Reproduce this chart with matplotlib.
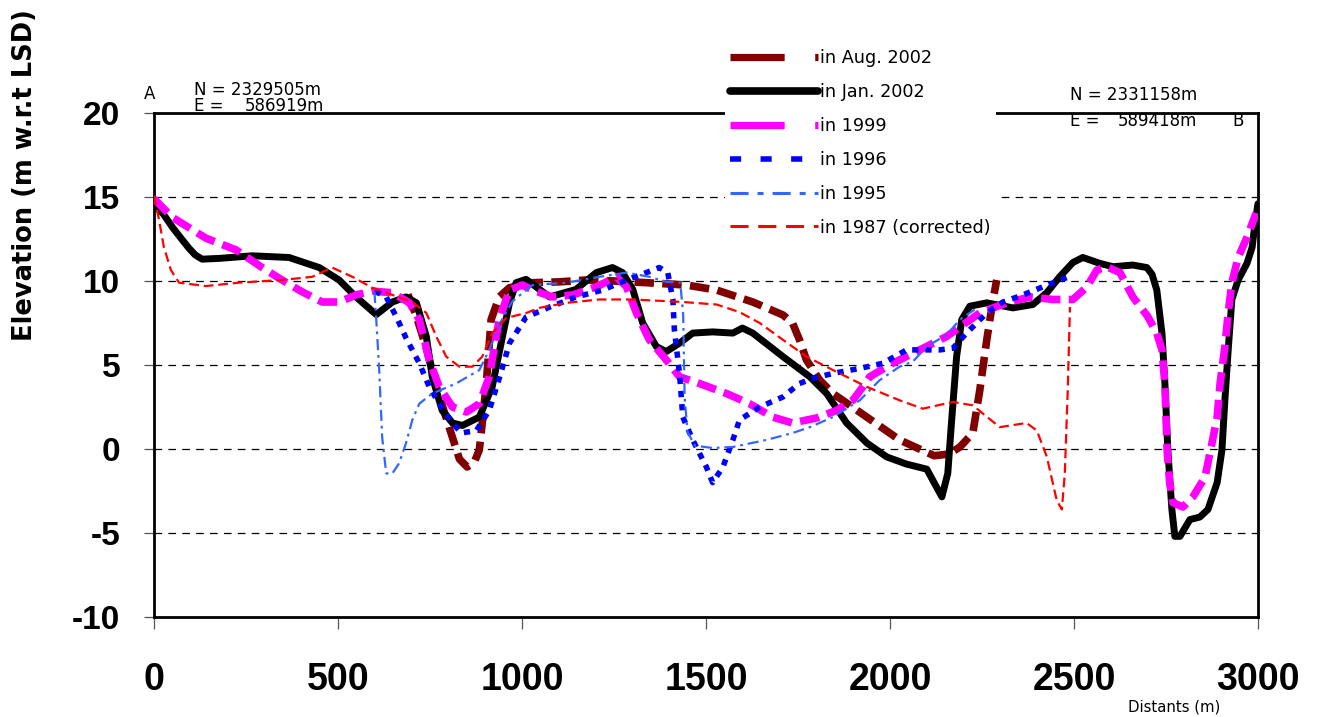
import matplotlib
matplotlib.use("Agg")
import matplotlib.pyplot as plt
from matplotlib.lines import Line2D

plt.rcParams['lines.scale_dashes'] = False

# ---- cross-section profiles (distance in m, elevation in m w.r.t LSD) ----
aug2002_x = [690, 713, 740, 770, 802, 830, 851, 870, 884, 892, 903, 916, 938, 966,
             1029, 1102, 1175, 1250, 1338, 1447, 1529, 1627, 1709, 1735, 1754, 1773,
             1809, 1845, 1937, 2026, 2080, 2120, 2160, 2190, 2225, 2244, 2263, 2280, 2290]
aug2002_y = [9.2, 7.9, 6.0, 3.5, 1.3, -0.6, -1.07, -0.8, -0.06, 1.55, 3.9, 7.7, 9.05, 9.6,
             9.9, 9.95, 10.06, 10.0, 9.9, 9.76, 9.46, 8.75, 7.98, 7.5, 6.5, 5.3,
             4.1, 3.3, 1.9, 0.54, 0.0, -0.4, -0.3, 0.12, 0.95, 3.5, 6.5, 8.9, 10.06]

jan2002_x = [0, 25, 50, 75, 95, 112, 131, 180, 267, 367, 449, 503, 549, 604, 648, 685,
             713, 740, 756, 783, 811, 838, 884, 919, 947, 966, 984, 1011, 1075, 1147,
             1202, 1246, 1273, 1301, 1328, 1365, 1392, 1428, 1464, 1518, 1573, 1599,
             1627, 1709, 1782, 1828, 1882, 1937, 1991, 2045, 2100, 2116, 2141, 2157,
             2167, 2181, 2195, 2217, 2263, 2334, 2388, 2426, 2461, 2497, 2524, 2570,
             2606, 2660, 2698, 2712, 2725, 2739, 2747, 2755, 2766, 2774, 2788, 2815,
             2842, 2864, 2889, 2902, 2910, 2919, 2929, 2946, 2970, 2984, 2992, 3000]
jan2002_y = [14.5, 14.0, 13.2, 12.5, 11.95, 11.55, 11.3, 11.35, 11.5, 11.4, 10.8, 10.06,
             9.05, 8.0, 8.75, 9.05, 8.7, 6.7, 4.3, 2.3, 1.55, 1.4, 1.9, 3.7, 6.7, 8.7,
             9.9, 10.1, 9.05, 9.5, 10.5, 10.8, 10.5, 9.5, 7.5, 6.1, 5.8, 6.3, 6.9, 6.97,
             6.9, 7.2, 6.9, 5.5, 4.3, 3.3, 1.55, 0.36, -0.47, -0.9, -1.2, -1.85, -2.85,
             -1.45, 1.55, 5.5, 7.7, 8.5, 8.7, 8.4, 8.6, 9.3, 10.25, 11.1, 11.4, 11.05,
             10.85, 10.95, 10.8, 10.4, 9.46, 6.9, 3.9, -0.06, -3.6, -5.2, -5.2, -4.2,
             -4.05, -3.6, -2.0, -0.06, 2.9, 5.9, 8.9, 10.06, 11.05, 12.0, 13.45, 14.6]

y1999_x = [0, 49, 141, 223, 294, 348, 403, 457, 503, 549, 593, 648, 694, 721, 748, 775,
           811, 849, 884, 911, 938, 966, 1001, 1029, 1083, 1138, 1202, 1257, 1284, 1311,
           1346, 1392, 1428, 1482, 1556, 1618, 1681, 1735, 1801, 1855, 1899, 1926,
           1945, 2007, 2081, 2154, 2244, 2317, 2380, 2443, 2497, 2535, 2562, 2589,
           2625, 2660, 2700, 2725, 2739, 2747, 2753, 2760, 2769, 2796, 2823, 2856,
           2875, 2889, 2897, 2910, 2919, 2929, 2946, 2970, 2995]
y1999_y = [14.9, 13.8, 12.55, 11.85, 10.8, 10.06, 9.35, 8.75, 8.75, 9.17, 9.4, 9.3, 8.7,
           7.7, 5.3, 3.7, 2.5, 2.2, 2.7, 4.3, 7.7, 9.46, 9.76, 9.46, 9.05, 9.17, 9.65,
           10.25, 9.65, 8.1, 6.5, 5.3, 4.3, 3.9, 3.3, 2.7, 1.9, 1.55, 1.85, 2.3, 2.9,
           3.7, 4.3, 5.1, 5.9, 6.7, 8.1, 8.7, 9.05, 8.9, 8.9, 9.65, 10.65, 10.85, 10.5,
           9.05, 7.9, 6.9, 5.9, 3.9, -0.06, -2.0, -3.2, -3.45, -2.85, -1.67, 0.36, 1.9,
           3.9, 6.1, 8.1, 9.9, 11.4, 12.6, 14.05]

y1996_x = [600, 631, 660, 685, 721, 748, 775, 811, 835, 876, 911, 938, 966, 1011, 1075,
           1147, 1219, 1284, 1338, 1373, 1396, 1410, 1414, 1428, 1437, 1464, 1501, 1518,
           1546, 1573, 1591, 1646, 1709, 1754, 1790, 1845, 1918, 1980, 2045, 2135,
           2171, 2208, 2263, 2307, 2361, 2415, 2480]
y1996_y = [9.4, 9.05, 7.8, 6.6, 5.1, 3.7, 2.7, 1.55, 0.95, 1.1, 2.3, 4.2, 6.3, 7.85,
           8.45, 9.05, 9.46, 10.06, 10.5, 10.8, 10.5, 8.9, 7.1, 4.5, 1.9, 0.54, -1.07,
           -2.0, -1.07, 0.54, 1.73, 2.5, 3.1, 3.9, 4.2, 4.5, 4.8, 5.1, 5.9, 5.9, 6.0,
           6.9, 8.1, 8.75, 9.17, 9.65, 10.2]

y1995_x = [599, 604, 612, 620, 631, 648, 666, 685, 702, 721, 756, 821, 884, 911, 938,
           974, 1029, 1121, 1210, 1284, 1346, 1392, 1430, 1438, 1442, 1450, 1470, 1518,
           1573, 1664, 1735, 1782, 1845, 1918, 1972, 2026, 2062, 2100, 2154, 2190, 2230]
y1995_y = [9.35, 7.7, 4.7, 0.7, -1.45, -1.45, -0.85, 0.36, 1.73, 2.7, 3.3, 3.9, 4.7,
           5.9, 7.4, 8.8, 9.76, 9.9, 10.25, 10.5, 10.25, 9.95, 9.9, 8.0, 3.0, 1.0, 0.2,
           0.06, 0.12, 0.54, 0.95, 1.3, 1.9, 2.9, 4.1, 4.9, 5.2, 6.1, 6.8, 7.7, 8.3]

y1987_x = [0, 14, 27, 46, 68, 141, 231, 348, 430, 484, 539, 593, 648, 702, 740, 767,
           794, 830, 865, 892, 919, 957, 1012, 1047, 1121, 1210, 1301, 1437, 1529, 1591,
           1646, 1709, 1773, 1845, 1937, 2026, 2089, 2171, 2225, 2298, 2371, 2399, 2426,
           2453, 2467, 2475, 2483, 2489]
y1987_y = [15.1, 13.6, 12.0, 10.65, 9.9, 9.7, 9.9, 10.06, 10.25, 10.8, 10.25, 9.6, 9.17,
           8.75, 8.1, 6.7, 5.5, 4.9, 4.9, 5.5, 6.9, 7.8, 8.1, 8.4, 8.7, 8.9, 8.9, 8.75,
           8.6, 8.15, 7.5, 6.5, 5.5, 4.7, 3.7, 2.9, 2.4, 2.8, 2.6, 1.3, 1.55, 1.1, -0.45,
           -3.05, -3.6, -1.45, 3.5, 8.45]

series_labels = ["in Aug. 2002", "in Jan. 2002", "in 1999", "in 1996", "in 1995",
                 "in 1987 (corrected)"]
x_ticks = [0, 500, 1000, 1500, 2000, 2500, 3000]
y_ticks = [-10, -5, 0, 5, 10, 15, 20]
grid_levels = [-5, 0, 5, 10, 15]

W, H = 1320, 717
fig = plt.figure(figsize=(W / 100, H / 100), dpi=100)
ax = fig.add_axes([154 / W, 1 - 617 / H, 1104 / W, 504 / H])
ax.set_xlim(0, 3000)
ax.set_ylim(-10, 20)

for lvl in grid_levels:
    ax.axhline(lvl, color="black", lw=0.9, dashes=(5.5, 4.5), zorder=1)

c_aug, c_jan, c_99, c_96, c_95, c_87 = "#800000", "black", "#FF00FF", "#0000FF", "#3366FF", "#FF0000"

ax.plot(aug2002_x, aug2002_y, color=c_aug, lw=5.5, dashes=(14, 6), zorder=3)
ax.plot(jan2002_x, jan2002_y, color=c_jan, lw=5.0, solid_capstyle="round",
        solid_joinstyle="round", zorder=4)
ax.plot(y1999_x, y1999_y, color=c_99, lw=5.5, dashes=(14, 6), zorder=5)
ax.plot(y1996_x, y1996_y, color=c_96, lw=4.0, dashes=(4.5, 5), zorder=6)
ax.plot(y1995_x, y1995_y, color=c_95, lw=1.6, dashes=(8, 3.5, 2, 3.5), zorder=7)
ax.plot(y1987_x, y1987_y, color=c_87, lw=1.6, dashes=(7, 3.5), zorder=8)

# axes frame and ticks
for sp in ax.spines.values():
    sp.set_linewidth(2.0)
    sp.set_color("black")
ax.set_xticks(x_ticks)
ax.set_yticks(y_ticks)
ax.set_xticklabels([str(v) for v in x_ticks])
ax.set_yticklabels([str(v) for v in y_ticks])
ax.tick_params(axis="y", direction="out", length=7.2, width=0.9, color="#555555", pad=17,
               labelsize=24)
ax.tick_params(axis="x", direction="out", length=8.6, width=0.9, color="#555555", pad=24,
               labelsize=27)
for lab in ax.get_xticklabels() + ax.get_yticklabels():
    lab.set_fontfamily("Liberation Sans")
    lab.set_fontweight("bold")

# legend with its own dash patterns
handles = [
    Line2D([], [], color=c_aug, lw=5.2, dashes=(39, 22)),
    Line2D([], [], color=c_jan, lw=5.5, solid_capstyle="round"),
    Line2D([], [], color=c_99, lw=5.2, dashes=(39, 22)),
    Line2D([], [], color=c_96, lw=4.0, dashes=(8, 14)),
    Line2D([], [], color=c_95, lw=2.2, dashes=(13, 6.5, 4.3, 6.5)),
    Line2D([], [], color=c_87, lw=2.2, dashes=(13, 7)),
]
leg = ax.legend(handles, series_labels, loc="upper left",
                bbox_to_anchor=(725 / W, 1 - 44 / H), bbox_transform=fig.transFigure,
                frameon=True, facecolor="white", edgecolor="none", framealpha=1.0,
                fancybox=False, borderpad=0.3, borderaxespad=0, handlelength=5.0,
                handletextpad=0.1, labelspacing=0.9,
                prop={"family": "DejaVu Sans", "size": 12.7})
leg.set_zorder(20)

# end-point annotations
small = {"family": "DejaVu Sans", "size": 12, "color": "black"}
fig.text(150 / W, 1 - 94 / H, "A", ha="center", va="center", **small)
fig.text(194 / W, 1 - 90 / H, "N = 2329505m", ha="left", va="center", **small)
fig.text(194 / W, 1 - 106 / H, "E =", ha="left", va="center", **small)
fig.text(245 / W, 1 - 106 / H, "586919m", ha="left", va="center", **small)
fig.text(1070 / W, 1 - 95 / H, "N = 2331158m", ha="left", va="center", **small)
fig.text(1070 / W, 1 - 121 / H, "E =", ha="left", va="center", **small)
fig.text(1118 / W, 1 - 121 / H, "589418m", ha="left", va="center", **small)
fig.text(1238 / W, 1 - 121 / H, "B", ha="center", va="center", **small)

fig.text(25 / W, 1 - 175 / H, "Elevation (m w.r.t LSD)", rotation=90, ha="center",
         va="center", family="DejaVu Sans", weight="bold", size=18.5)
fig.text(1174 / W, 1 - 707 / H, "Distants (m)", ha="center", va="center",
         family="DejaVu Sans", size=10.7)

fig.savefig("out.png", dpi=100)
